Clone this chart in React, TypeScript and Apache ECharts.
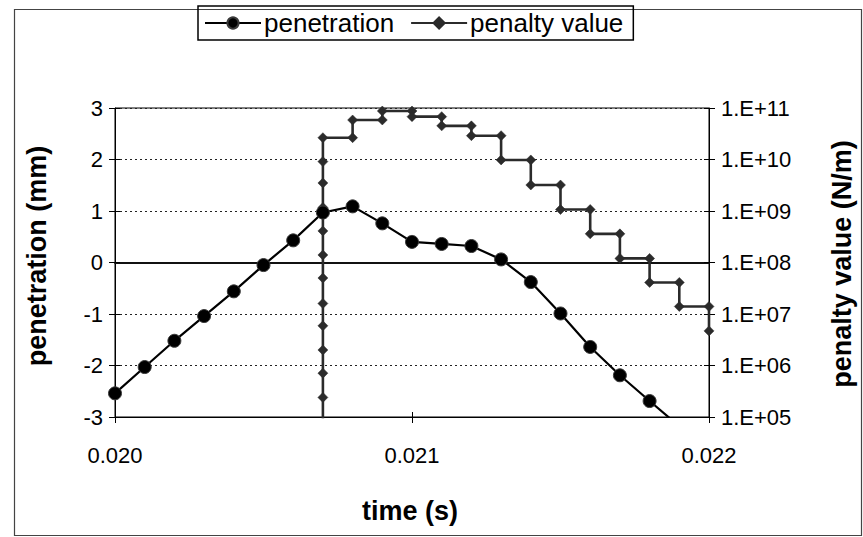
import React, { useEffect, useRef } from "react";
import * as echarts from "echarts";

// ---- data ----
const time = [
  0.0200, 0.0201, 0.0202, 0.0203, 0.0204, 0.0205, 0.0206, 0.0207, 0.0208, 0.0209,
  0.0210, 0.0211, 0.0212, 0.0213, 0.0214, 0.0215, 0.0216, 0.0217, 0.0218, 0.0219,
];
const penetration = [
  -2.54, -2.03, -1.52, -1.04, -0.56, -0.05, 0.43, 0.97, 1.09, 0.76,
  0.40, 0.36, 0.32, 0.06, -0.38, -0.99, -1.64, -2.19, -2.69, -3.18,
];

const penaltyTime = [
  0.0207, 0.0207, 0.0207, 0.0207, 0.0207, 0.0207, 0.0207, 0.0207, 0.0207, 0.0207, 0.0207, 0.0207, 0.0207,
  0.0208, 0.0208, 0.0209, 0.0209, 0.0210, 0.0210, 0.0211, 0.0211, 0.0212, 0.0212,
  0.0213, 0.0213, 0.0214, 0.0214, 0.0215, 0.0215, 0.0216, 0.0216, 0.0217, 0.0217,
  0.0218, 0.0218, 0.0219, 0.0219, 0.0220, 0.0220,
];
const penaltyValue = [
  8e4, 2.4e5, 7.1e5, 2.0e6, 5.9e6, 1.6e7, 5.0e7, 1.4e8, 4.1e8, 1.17e9, 3.5e9, 9.1e9, 2.65e10,
  2.65e10, 5.85e10, 5.85e10, 8.75e10, 8.75e10, 6.8e10, 6.8e10, 4.5e10, 4.5e10, 2.9e10,
  2.9e10, 9.8e9, 9.8e9, 3.2e9, 3.2e9, 1.07e9, 1.07e9, 3.6e8, 3.6e8, 1.2e8,
  1.2e8, 4.1e7, 4.1e7, 1.4e7, 1.4e7, 4.7e6,
];

const xRange = [0.020, 0.022];
const xStep = 0.001;
const leftRange = [-3, 3];
const leftStep = 1;
const rightRange = [1e5, 1e11];

const seriesNames = ["penetration", "penalty value"];
const titles = { x: "time (s)", left: "penetration (mm)", right: "penalty value (N/m)" };

const FONT = "'Liberation Sans', Arial, Helvetica, sans-serif";

function expLabel(v: number): string {
  const e = Math.round(Math.log10(v));
  return "1.E+" + (e < 10 ? "0" + e : String(e));
}

export default function App() {
  const ref = useRef<HTMLDivElement>(null);
  useEffect(() => {
    if (!ref.current) return;
    const chart = echarts.init(ref.current, null, { renderer: "svg" });

    const penData = time.map((t, i) => [t, penetration[i]]);
    const pvData = penaltyTime.map((t, i) => [t, penaltyValue[i]]);

    const baseX = { type: "value", min: xRange[0], max: xRange[1], interval: xStep };
    const baseL = { type: "value", min: leftRange[0], max: leftRange[1], interval: leftStep };
    const baseR = { type: "log", logBase: 10, min: rightRange[0], max: rightRange[1] };

    const option: any = {
      animation: false,
      backgroundColor: "#ffffff",
      textStyle: { fontFamily: FONT, color: "#000" },
      grid: {
        left: 115, right: 154, top: 108, bottom: 120,
        show: true, borderColor: "#000", borderWidth: 1, backgroundColor: "transparent",
      },
      legend: {
        left: 198, top: 6,
        padding: [4, 10, 4, 6],
        borderColor: "#000", borderWidth: 1.5,
        itemWidth: 56, itemHeight: 14, itemGap: 16,
        textStyle: { fontFamily: FONT, fontSize: 26, color: "#000", padding: [0, 0, 0, -2] },
        data: seriesNames,
      },
      xAxis: [
        {
          ...baseX, position: "bottom",
          axisLine: { onZero: false, lineStyle: { color: "#000", width: 1 } },
          axisTick: { length: 6, lineStyle: { color: "#000" } },
          axisLabel: { margin: 27, fontSize: 22, color: "#000", fontFamily: FONT, formatter: (v: number) => v.toFixed(3) },
          splitLine: { show: false },
        },
        {
          ...baseX, position: "bottom",
          axisLine: { show: false, onZero: false },
          axisTick: { inside: true, length: 5, lineStyle: { color: "#000" } },
          axisLabel: { show: false }, splitLine: { show: false },
        },
        {
          ...baseX, position: "bottom",
          axisLine: { show: true, onZero: true, onZeroAxisIndex: 0, lineStyle: { color: "#111", width: 1.8 } },
          axisTick: { show: false }, axisLabel: { show: false }, splitLine: { show: false },
        },
      ],
      yAxis: [
        {
          ...baseL, position: "left",
          axisLine: { show: true, onZero: false, lineStyle: { color: "#000", width: 1 } },
          axisTick: { length: 6, lineStyle: { color: "#000" } },
          axisLabel: { margin: 12, fontSize: 22, color: "#000", fontFamily: FONT },
          splitLine: { show: true, lineStyle: { color: "#222", type: [2, 3], width: 1 } },
        },
        {
          ...baseL, position: "left",
          axisLine: { show: false, onZero: false },
          axisTick: { inside: true, length: 5, lineStyle: { color: "#000" } },
          axisLabel: { show: false }, splitLine: { show: false },
        },
        {
          ...baseR, position: "right",
          axisLine: { show: true, onZero: false, lineStyle: { color: "#000", width: 1 } },
          axisTick: { length: 6, lineStyle: { color: "#000" } },
          axisLabel: { margin: 12, fontSize: 22, color: "#000", fontFamily: FONT, formatter: (v: number) => expLabel(v) },
          splitLine: { show: false }, minorTick: { show: false },
        },
        {
          ...baseR, position: "right",
          axisLine: { show: false, onZero: false },
          axisTick: { inside: true, length: 5, lineStyle: { color: "#000" } },
          axisLabel: { show: false }, splitLine: { show: false },
        },
      ],
      graphic: [
        {
          type: "rect", left: 12, top: 7, z: -10, silent: true,
          shape: { x: 0, y: 0, width: 847, height: 526 },
          style: { fill: "none", stroke: "#444", lineWidth: 1.2 },
        },
        {
          type: "text", x: 410, y: 511, silent: true,
          style: { text: titles.x, font: `bold 27px ${FONT}`, fill: "#000", textAlign: "center", textVerticalAlign: "middle" },
        },
        {
          type: "text", x: 37, y: 256, rotation: Math.PI / 2, silent: true,
          style: { text: titles.left, font: `bold 27px ${FONT}`, fill: "#000", textAlign: "center", textVerticalAlign: "middle" },
        },
        {
          type: "text", x: 842, y: 264, rotation: Math.PI / 2, silent: true,
          style: { text: titles.right, font: `bold 27px ${FONT}`, fill: "#000", textAlign: "center", textVerticalAlign: "middle" },
        },
      ],
      series: [
        {
          name: seriesNames[1], type: "line", xAxisIndex: 0, yAxisIndex: 2,
          data: pvData, clip: true, z: 3,
          symbol: "diamond", symbolSize: 10, showAllSymbol: true,
          itemStyle: { color: "#2b2b2b", borderColor: "#2b2b2b", borderWidth: 0.5 },
          lineStyle: { color: "#2b2b2b", width: 2.6 },
        },
        {
          name: seriesNames[0], type: "line", xAxisIndex: 0, yAxisIndex: 0,
          data: penData, clip: true, z: 4,
          symbol: "circle", symbolSize: 13, showAllSymbol: true,
          itemStyle: { color: "#000", borderColor: "#3a3a3a", borderWidth: 1 },
          lineStyle: { color: "#000", width: 2.2 },
        },
      ],
    };
    chart.setOption(option);
    return () => chart.dispose();
  }, []);
  return (
    <div
      ref={ref}
      style={{ position: "fixed", left: 0, top: 0, width: 863, height: 537, background: "#fff" }}
    />
  );
}
